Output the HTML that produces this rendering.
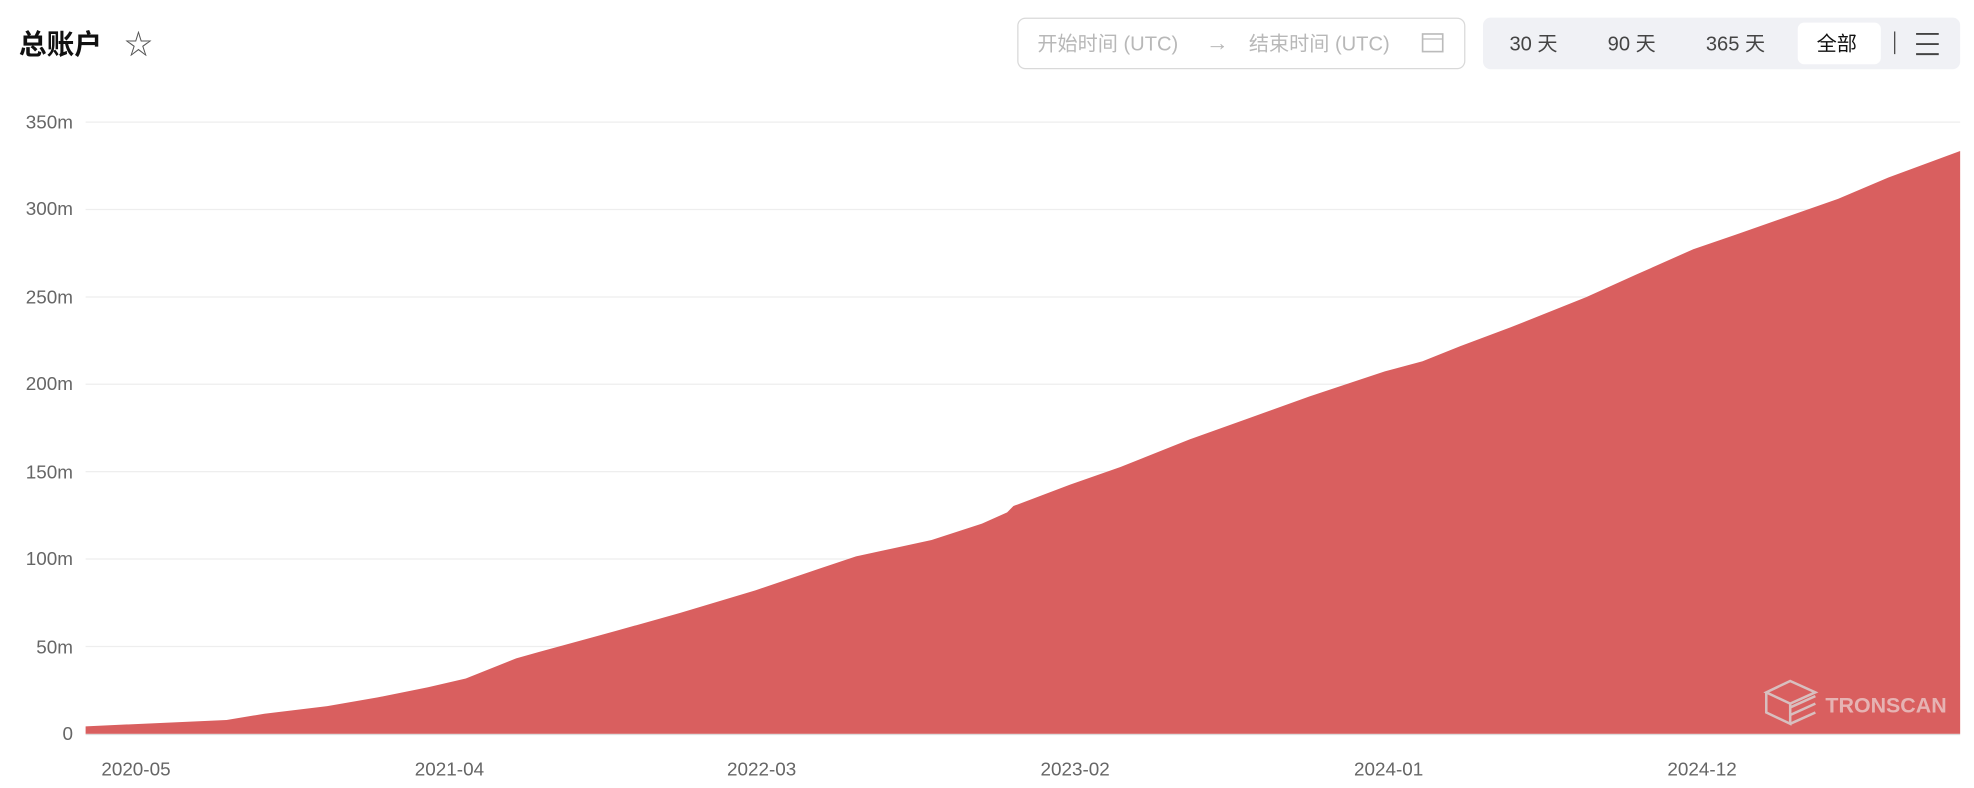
<!DOCTYPE html>
<html><head><meta charset="utf-8"><style>
html,body{margin:0;padding:0;background:#fff;}
svg{display:block}
text{font-family:"Liberation Sans","Noto Sans CJK SC",sans-serif;}
</style></head><body>
<svg width="1974" height="788" viewBox="0 0 1568 626" preserveAspectRatio="none" xmlns="http://www.w3.org/2000/svg">
<text x="15" y="43" font-size="22" font-weight="bold" fill="#111">总账户</text>
<text x="99" y="43" font-size="22" fill="#555">☆</text>
<rect x="808.5" y="14.5" width="355" height="40" rx="6" fill="#fff" stroke="#d9d9d9"/>
<text x="824" y="40" font-size="16" fill="#b8b8b8">开始时间 (UTC)</text>
<text x="958" y="40" font-size="18" fill="#b8b8b8">→</text>
<text x="992" y="40" font-size="16" fill="#b8b8b8">结束时间 (UTC)</text>
<rect x="1130" y="27" width="16" height="14" fill="none" stroke="#bbb" stroke-width="1.3"/>
<line x1="1130" y1="31" x2="1146" y2="31" stroke="#bbb"/>
<rect x="1178" y="14" width="379" height="41" rx="6" fill="#f0f1f5"/>
<rect x="1428" y="18" width="66" height="33" rx="5" fill="#fff"/>
<text x="1199" y="40" font-size="16" fill="#444">30 天</text>
<text x="1277" y="40" font-size="16" fill="#444">90 天</text>
<text x="1355" y="40" font-size="16" fill="#444">365 天</text>
<text x="1443" y="40" font-size="16" fill="#111">全部</text>
<line x1="1505" y1="25" x2="1505" y2="43" stroke="#444"/>
<g stroke="#444" stroke-width="1.5"><line x1="1522" y1="27" x2="1540" y2="27"/><line x1="1522" y1="35" x2="1540" y2="35"/><line x1="1522" y1="43" x2="1540" y2="43"/></g>
<g stroke="#eeeeee" stroke-width="1">
<line x1="68" y1="97" x2="1557" y2="97"/><line x1="68" y1="166.4" x2="1557" y2="166.4"/><line x1="68" y1="235.9" x2="1557" y2="235.9"/><line x1="68" y1="305.3" x2="1557" y2="305.3"/><line x1="68" y1="374.7" x2="1557" y2="374.7"/><line x1="68" y1="444.1" x2="1557" y2="444.1"/><line x1="68" y1="513.6" x2="1557" y2="513.6"/>
</g>
<g font-size="15" fill="#666" text-anchor="end">
<text x="58" y="102">350m</text><text x="58" y="171">300m</text><text x="58" y="241">250m</text><text x="58" y="310">200m</text><text x="58" y="380">150m</text><text x="58" y="449">100m</text><text x="58" y="519">50m</text><text x="58" y="588">0</text>
</g>
<path fill="#d95f5f" d="M68,583 L68,577 180,572 210,567 260,561 300,554 340,546 370,539 410,523 428,518 490,501 540,487 600,469 650,452 680,442 740,429 780,416 800,407 805,402 850,385 890,371 940,351 945,349 990,333 1040,315 1100,295 1130,287 1160,275 1200,260 1220,252 1260,236 1300,218 1345,198 1380,186 1420,172 1460,158 1500,141 1557,120 L1557,583 Z"/>
<line x1="68" y1="583.5" x2="1557" y2="583.5" stroke="#ddd"/>
<g fill="none" stroke="#d8d8d8" stroke-width="2" opacity="0.8">
<path d="M1403,550 L1422,541 1442,550 1422,559 Z"/>
<path d="M1403,550 L1403,566 1422,575 1422,559"/>
<path d="M1422,575 L1442,566 M1422,568 L1442,559 M1422,562 L1442,553"/>
</g>
<text x="1450" y="566" font-size="17" font-weight="bold" fill="#e6b3b3">TRONSCAN</text>
<g font-size="15" fill="#666" text-anchor="middle">
<text x="108" y="616">2020-05</text><text x="357" y="616">2021-04</text><text x="605" y="616">2022-03</text><text x="854" y="616">2023-02</text><text x="1103" y="616">2024-01</text><text x="1352" y="616">2024-12</text>
</g>
</svg>
</body></html>
